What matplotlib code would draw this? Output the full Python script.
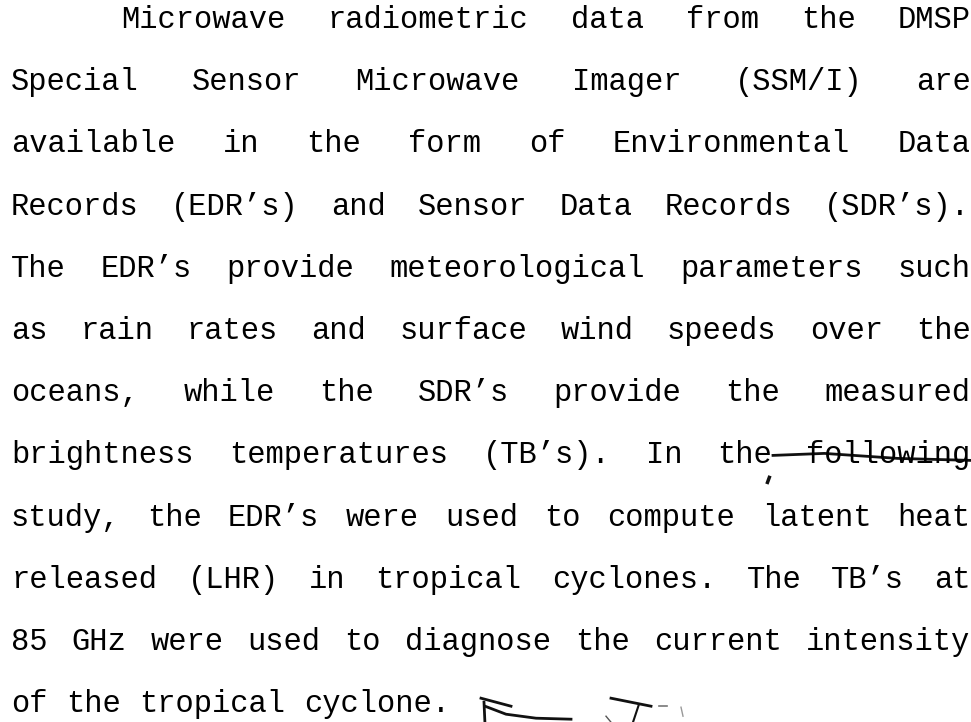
import matplotlib
matplotlib.use("Agg")
from matplotlib import pyplot as plt

# page text, one entry per typed line
LINES = [
    "Microwave radiometric data from the DMSP",
    "Special Sensor Microwave Imager (SSM/I) are",
    "available in the form of Environmental Data",
    "Records (EDR’s) and Sensor Data Records (SDR’s).",
    "The EDR’s provide meteorological parameters such",
    "as rain rates and surface wind speeds over the",
    "oceans, while the SDR’s provide the measured",
    "brightness temperatures (TB’s). In the following",
    "study, the EDR’s were used to compute latent heat",
    "released (LHR) in tropical cyclones. The TB’s at",
    "85 GHz were used to diagnose the current intensity",
    "of the tropical cyclone.",
]
STRUCK_LINE = 7
STRUCK_WORD = "following"

W, H = 971, 722
FS = 22
ADV = FS * 100 / 72 * 0.6   # monospace advance in px
LEFT, RIGHT, INDENT = 11, 971, 121
BASE0, LEADING = 28, 62.2

fig = plt.figure(figsize=(W / 100, H / 100), dpi=100)
ax = fig.add_axes([0, 0, 1, 1])
ax.set_xlim(0, W)
ax.set_ylim(H, 0)
ax.axis("off")

struck = None
for i, line in enumerate(LINES):
    words = line.split()
    x = INDENT if i == 0 else LEFT
    y = BASE0 + i * LEADING
    nchars = sum(len(w) for w in words)
    if i < len(LINES) - 1 and len(words) > 1:
        gap = (RIGHT - x - nchars * ADV) / (len(words) - 1)
    else:
        gap = ADV
    for w in words:
        ax.text(x, y, w, fontsize=FS, family="Liberation Mono", fontweight="normal",
                ha="left", va="baseline", color="#000000")
        if i == STRUCK_LINE and w == STRUCK_WORD:
            struck = (x, y)
        x += len(w) * ADV + gap

# pen strike through "e following"
if struck:
    sx, sy = struck
    ax.plot([sx - 1.8 * ADV, sx + 1 * ADV, sx + 5 * ADV, sx + 9 * ADV],
            [sy - 8, sy - 10, sy - 5, sy - 3], color="#111111", lw=2)
    ax.plot([sx - 2 * ADV, sx - 2.1 * ADV], [sy + 14, sy + 19], color="#111111", lw=2.5)

# scribble after the last line
ex = LEFT + len(LINES[-1]) * ADV + 30
ey = BASE0 + (len(LINES) - 1) * LEADING
ax.plot([ex, ex + 30], [ey - 14, ey - 6], color="#111111", lw=2)
ax.plot([ex + 3, ex + 4], [ey - 10, ey + 12], color="#111111", lw=2)
ax.plot([ex + 4, ex + 25, ex + 55, ex + 90], [ey - 6, ey + 2, ey + 6, ey + 7], color="#111111", lw=2)
ax.plot([ex + 130, ex + 170], [ey - 14, ey - 6], color="#111111", lw=2)
ax.plot([ex + 158, ex + 152], [ey - 8, ey + 10], color="#111111", lw=1.5)
ax.plot([ex + 125, ex + 130], [ey + 4, ey + 10], color="#555555", lw=1)
ax.plot([ex + 178, ex + 186], [ey - 6, ey - 6], color="#777777", lw=1.2)
ax.plot([ex + 200, ex + 202], [ey - 5, ey + 4], color="#999999", lw=1)

fig.savefig("out.png", dpi=100, facecolor="white")
